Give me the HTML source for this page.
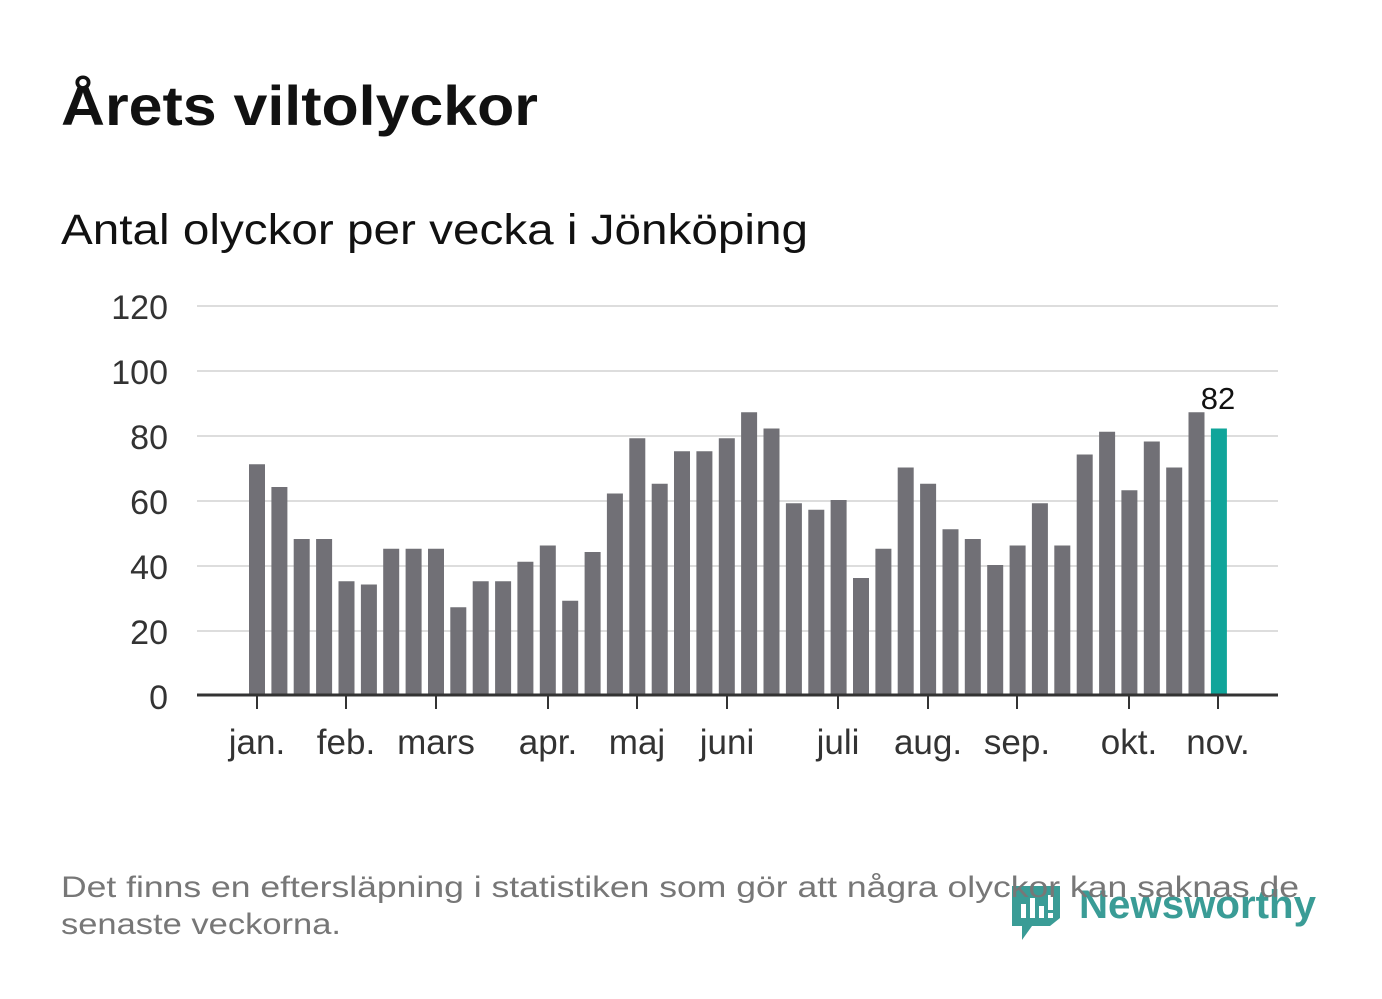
<!DOCTYPE html>
<html><head><meta charset="utf-8"><style>body{margin:0;background:#fff}svg{display:block}</style></head><body>
<svg width="1382" height="999" xmlns="http://www.w3.org/2000/svg" font-family="Liberation Sans, DejaVu Sans, sans-serif">
<rect width="1382" height="999" fill="#fff"/>
<text x="61" y="125" font-size="56" font-weight="bold" fill="#111" textLength="477" lengthAdjust="spacingAndGlyphs">Årets viltolyckor</text>
<text x="61" y="244" font-size="43" fill="#111" textLength="747" lengthAdjust="spacingAndGlyphs">Antal olyckor per vecka i Jönköping</text>
<g stroke="#ddd" stroke-width="2">
<line x1="197" x2="1278" y1="306" y2="306"/><line x1="197" x2="1278" y1="371" y2="371"/><line x1="197" x2="1278" y1="436" y2="436"/><line x1="197" x2="1278" y1="501" y2="501"/><line x1="197" x2="1278" y1="566" y2="566"/><line x1="197" x2="1278" y1="631" y2="631"/>
</g>
<g font-size="34" fill="#333" text-anchor="end">
<text x="168" y="319">120</text><text x="168" y="384">100</text><text x="168" y="449">80</text><text x="168" y="514">60</text><text x="168" y="579">40</text><text x="168" y="644">20</text><text x="168" y="709">0</text>
</g>
<g fill="#717076">
<rect x="249.0" y="464.25" width="16" height="230.75"/>
<rect x="271.4" y="487" width="16" height="208"/>
<rect x="293.7" y="539" width="16" height="156"/>
<rect x="316.1" y="539" width="16" height="156"/>
<rect x="338.5" y="581.25" width="16" height="113.75"/>
<rect x="360.9" y="584.5" width="16" height="110.5"/>
<rect x="383.2" y="548.75" width="16" height="146.25"/>
<rect x="405.6" y="548.75" width="16" height="146.25"/>
<rect x="428.0" y="548.75" width="16" height="146.25"/>
<rect x="450.3" y="607.25" width="16" height="87.75"/>
<rect x="472.7" y="581.25" width="16" height="113.75"/>
<rect x="495.1" y="581.25" width="16" height="113.75"/>
<rect x="517.4" y="561.75" width="16" height="133.25"/>
<rect x="539.8" y="545.5" width="16" height="149.5"/>
<rect x="562.2" y="600.75" width="16" height="94.25"/>
<rect x="584.6" y="552" width="16" height="143"/>
<rect x="606.9" y="493.5" width="16" height="201.5"/>
<rect x="629.3" y="438.25" width="16" height="256.75"/>
<rect x="651.7" y="483.75" width="16" height="211.25"/>
<rect x="674.0" y="451.25" width="16" height="243.75"/>
<rect x="696.4" y="451.25" width="16" height="243.75"/>
<rect x="718.8" y="438.25" width="16" height="256.75"/>
<rect x="741.1" y="412.25" width="16" height="282.75"/>
<rect x="763.5" y="428.5" width="16" height="266.5"/>
<rect x="785.9" y="503.25" width="16" height="191.75"/>
<rect x="808.3" y="509.75" width="16" height="185.25"/>
<rect x="830.6" y="500" width="16" height="195"/>
<rect x="853.0" y="578" width="16" height="117"/>
<rect x="875.4" y="548.75" width="16" height="146.25"/>
<rect x="897.7" y="467.5" width="16" height="227.5"/>
<rect x="920.1" y="483.75" width="16" height="211.25"/>
<rect x="942.5" y="529.25" width="16" height="165.75"/>
<rect x="964.8" y="539" width="16" height="156"/>
<rect x="987.2" y="565" width="16" height="130"/>
<rect x="1009.6" y="545.5" width="16" height="149.5"/>
<rect x="1031.9" y="503.25" width="16" height="191.75"/>
<rect x="1054.3" y="545.5" width="16" height="149.5"/>
<rect x="1076.7" y="454.5" width="16" height="240.5"/>
<rect x="1099.1" y="431.75" width="16" height="263.25"/>
<rect x="1121.4" y="490.25" width="16" height="204.75"/>
<rect x="1143.8" y="441.5" width="16" height="253.5"/>
<rect x="1166.2" y="467.5" width="16" height="227.5"/>
<rect x="1188.5" y="412.25" width="16" height="282.75"/>
</g>
<rect x="1210.9" y="428.5" width="16" height="266.5" fill="#10a59a"/>
<line x1="197" x2="1278" y1="695" y2="695" stroke="#333" stroke-width="3"/>
<g stroke="#333" stroke-width="2">
<line x1="257" x2="257" y1="695" y2="709"/><line x1="346" x2="346" y1="695" y2="709"/><line x1="436" x2="436" y1="695" y2="709"/><line x1="548" x2="548" y1="695" y2="709"/><line x1="637" x2="637" y1="695" y2="709"/><line x1="727" x2="727" y1="695" y2="709"/><line x1="838" x2="838" y1="695" y2="709"/><line x1="928" x2="928" y1="695" y2="709"/><line x1="1017" x2="1017" y1="695" y2="709"/><line x1="1129" x2="1129" y1="695" y2="709"/><line x1="1218" x2="1218" y1="695" y2="709"/>
</g>
<g font-size="35" fill="#333" text-anchor="middle">
<text x="257" y="754">jan.</text><text x="346" y="754">feb.</text><text x="436" y="754">mars</text><text x="548" y="754">apr.</text><text x="637" y="754">maj</text><text x="727" y="754">juni</text><text x="838" y="754">juli</text><text x="928" y="754">aug.</text><text x="1017" y="754">sep.</text><text x="1129" y="754">okt.</text><text x="1218" y="754">nov.</text>
</g>
<text x="1218" y="409" font-size="31" fill="#111" text-anchor="middle">82</text>
<path d="M1012 886 h48 v32 l-10 8 h-18 l-10 14 v-14 h-10 z" fill="#3a9c96"/>
<g fill="#fff"><rect x="1021" y="904" width="5" height="14"/><rect x="1030" y="898" width="5" height="20"/><rect x="1039" y="906" width="5" height="12"/><rect x="1048" y="895" width="5" height="15"/><rect x="1048" y="913" width="5" height="5"/></g>
<text x="1079" y="918" font-size="40" font-weight="bold" fill="#3a9c96" textLength="237" lengthAdjust="spacingAndGlyphs">Newsworthy</text>
<g font-size="30" fill="#777">
<text x="61" y="897" textLength="1238" lengthAdjust="spacingAndGlyphs">Det finns en eftersläpning i statistiken som gör att några olyckor kan saknas de</text>
<text x="61" y="934" textLength="280" lengthAdjust="spacingAndGlyphs">senaste veckorna.</text>
</g>
</svg>
</body></html>
